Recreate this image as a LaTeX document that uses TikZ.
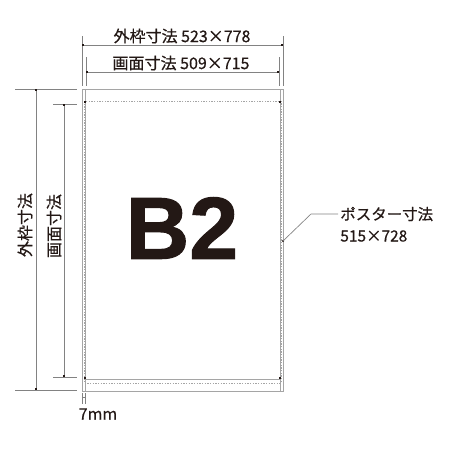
\documentclass[tikz,border=0pt]{standalone}
\usepackage{fontspec}
\setmainfont{Liberation Sans}
\newfontfamily\jpfont[FakeBold=0.6]{Noto Sans CJK JP}
\newfontfamily\heavyfont[FakeBold=1.2]{Liberation Sans Bold}
\usetikzlibrary{arrows.meta}
\definecolor{inkblack}{RGB}{35,24,21}
\definecolor{framegray}{RGB}{165,165,165}
\definecolor{dimgray}{RGB}{130,130,130}
\tikzset{every picture/.style={line width=0.5pt}}
\tikzset{
  frameline/.style={draw=framegray},
  posterline/.style={draw=framegray, dash pattern=on 1pt off 1pt},
  extline/.style={draw=dimgray},
  dimline/.style={draw=dimgray, {Square[length=1.5pt,width=1.5pt,color=inkblack]}-{Square[length=1.5pt,width=1.5pt,color=inkblack]}},
  dimlabel/.style={font=\jpfont\fontsize{12}{14}\selectfont, text=inkblack, inner sep=0.75pt},
}

\begin{document}
\begin{tikzpicture}[x=0.75pt,y=0.75pt,yscale=-1,xscale=1]
        \useasboundingbox (0,0) rectangle (450,450);

        %Shape: Rectangle [outer frame 523x778]
        \draw [frameline] (82,89) rectangle (283,391) ;
        %Straight Lines [frame inner edge]
        \draw [frameline] (85,89) -- (85,391) ;
        \draw [frameline] (280,89) -- (280,391) ;
        %Shape: Rectangle [poster 515x728]
        \draw [posterline] (84,101) rectangle (281,383) ;
        \draw [frameline] (85,379) -- (280,379) ;
        %Corner marks [picture area]
        \foreach \cx/\cy in {85/102,280/102,85/378,280/378}
          \fill [inkblack] (\cx-1,\cy-1) rectangle ++(2,2) ;

        %Straight Lines [top dimensions]
        \draw [extline] (82,36) -- (82,86) ;
        \draw [extline] (283,36) -- (283,86) ;
        \draw [extline] (86,57) -- (86,86) ;
        \draw [extline] (279,57) -- (279,86) ;
        \draw [dimline] (82,45) -- (283,45) ;
        \draw [dimline] (86,72) -- (279,72) ;

        %Straight Lines [left dimensions]
        \draw [extline] (15,89) -- (77,89) ;
        \draw [extline] (15,390) -- (77,390) ;
        \draw [extline] (53,104) -- (77,104) ;
        \draw [extline] (53,377) -- (77,377) ;
        \draw [dimline] (36,89) -- (36,390) ;
        \draw [dimline] (64,104) -- (64,377) ;

        %Straight Lines [7mm]
        \draw [extline] (82,393) -- (82,404) ;
        \draw [extline] (85,393) -- (85,404) ;
        \draw [extline] (82,397) -- (85,397) ;

        % Text Node
        \node [dimlabel] (outerlabel) at (182,36) {外枠寸法 523×778};
        % Text Node
        \node [dimlabel] (screenlabel) at (181,63) {画面寸法 509×715};
        % Text Node
        \node [dimlabel, rotate=90] (outerside) at (25,225) {外枠寸法};
        % Text Node
        \node [dimlabel, rotate=90] (screenside) at (54,226) {画面寸法};
        % Text Node
        \node [dimlabel] (marginlabel) at (98,414) {7mm};
        % Text Node
        \node [font=\heavyfont\fontsize{66}{66}\selectfont, text=inkblack, inner sep=0pt] (sizename) at (182,228) {B2};
        % Text Node
        \node [dimlabel, font=\jpfont\fontsize{11.6}{14}\selectfont, anchor=west, inner sep=1.5pt] (postername) at (338,214) {ポスター寸法};
        % Text Node
        \node [dimlabel, font=\jpfont\fontsize{11.6}{14}\selectfont, anchor=west, inner sep=1.5pt] (postersize) at (338,236) {515×728};

        %Straight Lines [leader]
        \coordinate (posteredge) at (283,241);
        \fill [inkblack] (posteredge) circle [radius=1.2] ;
        \draw [extline] (posteredge) -- (311,214) -- (postername.west) ;

\end{tikzpicture}
\end{document}
